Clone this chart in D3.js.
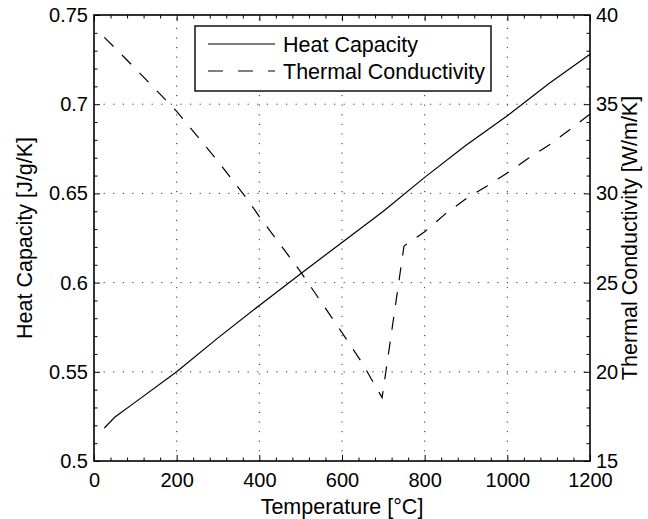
<!DOCTYPE html>
<html>
<head>
<meta charset="utf-8">
<script src="https://cdn.jsdelivr.net/npm/d3@7"></script>
<style>
  html, body { margin: 0; padding: 0; background: #fff; }
  svg { display: block; }
  text { font-family: "Liberation Sans", Arial, Helvetica, sans-serif; fill: #000; }
</style>
</head>
<body>
<svg id="chart" width="648" height="519"></svg>
<script>
// ---- data ----
const hcTemps = [25, 50, 100, 200, 300, 400, 500, 600, 700, 800, 900, 1000, 1100, 1200];
const heatCapacity = [0.5185, 0.5245, 0.533, 0.550, 0.569, 0.5872, 0.605, 0.6225, 0.640, 0.659, 0.677, 0.6935, 0.7115, 0.728];

const tcTemps = [25, 100, 200, 300, 370, 400, 500, 600, 650, 697, 750, 800, 850, 900, 950, 1000, 1050, 1100, 1150, 1200];
const thermalConductivity = [38.75, 37.0, 34.6, 31.8, 29.7, 28.7, 25.6, 22.2, 20.45, 18.55, 27.05, 27.85, 28.85, 29.7, 30.4, 31.15, 31.95, 32.7, 33.55, 34.45];

const xTicks = [0, 200, 400, 600, 800, 1000, 1200];
const yLeftTicks = [0.5, 0.55, 0.6, 0.65, 0.7, 0.75];
const yRightTicks = [15, 20, 25, 30, 35, 40];
const yLeftLabels = ["0.5", "0.55", "0.6", "0.65", "0.7", "0.75"];
const seriesNames = ["Heat Capacity", "Thermal Conductivity"];

// ---- layout ----
const L = 94, R = 590, T = 15, B = 461;
const svg = d3.select("#chart");

const x = d3.scaleLinear().domain([0, 1200]).range([L, R]);
const yL = d3.scaleLinear().domain([0.5, 0.75]).range([B, T]);
const yR = d3.scaleLinear().domain([15, 40]).range([B, T]);

const FONT = 20;      // tick labels
const TFONT = 21.5;   // titles and legend

// grid (dotted)
const grid = svg.append("g").attr("stroke", "#333").attr("stroke-width", 1)
  .attr("stroke-dasharray", "1.2,8.4");
xTicks.slice(1, -1).forEach(v => {
  grid.append("line").attr("x1", x(v)).attr("x2", x(v)).attr("y1", B).attr("y2", T);
});
yLeftTicks.slice(1, -1).forEach(v => {
  grid.append("line").attr("x1", L).attr("x2", R).attr("y1", yL(v)).attr("y2", yL(v));
});

// minor tick values
const xMinor = d3.range(0, 1201, 40).filter(v => v % 200 !== 0);
const yLMinor = d3.range(0, 26).map(i => 0.5 + i * 0.01).filter((v, i) => i % 5 !== 0);
const yRMinor = d3.range(15, 41).filter(v => v % 5 !== 0);

function styleAxis(g) {
  g.select(".domain").remove();
  g.selectAll("line").attr("stroke", "#000").attr("stroke-width", 1);
  g.selectAll("text").style("font-size", FONT + "px").attr("fill", "#000")
    .style("font-family", '"Liberation Sans", Arial, Helvetica, sans-serif');
}

// bottom
svg.append("g").attr("transform", `translate(0,${B})`)
  .call(d3.axisBottom(x).tickValues(xTicks).tickSize(-6).tickPadding(12).tickFormat(d3.format("d")))
  .call(styleAxis);
svg.append("g").attr("transform", `translate(0,${B})`)
  .call(d3.axisBottom(x).tickValues(xMinor).tickSize(-3.5).tickFormat(""))
  .call(styleAxis);
// top
svg.append("g").attr("transform", `translate(0,${T})`)
  .call(d3.axisTop(x).tickValues(xTicks).tickSize(-6).tickFormat(""))
  .call(styleAxis);
svg.append("g").attr("transform", `translate(0,${T})`)
  .call(d3.axisTop(x).tickValues(xMinor).tickSize(-3.5).tickFormat(""))
  .call(styleAxis);
// left
svg.append("g").attr("transform", `translate(${L},0)`)
  .call(d3.axisLeft(yL).tickValues(yLeftTicks).tickSize(-6).tickPadding(6)
    .tickFormat((d, i) => yLeftLabels[i]))
  .call(styleAxis);
svg.append("g").attr("transform", `translate(${L},0)`)
  .call(d3.axisLeft(yL).tickValues(yLMinor).tickSize(-3.5).tickFormat(""))
  .call(styleAxis);
// right
svg.append("g").attr("transform", `translate(${R},0)`)
  .call(d3.axisRight(yR).tickValues(yRightTicks).tickSize(-6).tickPadding(6).tickFormat(d3.format("d")))
  .call(styleAxis);
svg.append("g").attr("transform", `translate(${R},0)`)
  .call(d3.axisRight(yR).tickValues(yRMinor).tickSize(-3.5).tickFormat(""))
  .call(styleAxis);

// axis box
svg.append("rect").attr("x", L).attr("y", T).attr("width", R - L).attr("height", B - T)
  .attr("fill", "none").attr("stroke", "#000").attr("stroke-width", 1.6);

// lines
const hcData = hcTemps.map((t, i) => [t, heatCapacity[i]]);
const tcData = tcTemps.map((t, i) => [t, thermalConductivity[i]]);

svg.append("path").datum(hcData)
  .attr("d", d3.line().x(d => x(d[0])).y(d => yL(d[1])))
  .attr("fill", "none").attr("stroke", "#000").attr("stroke-width", 1.2);

svg.append("path").datum(tcData)
  .attr("d", d3.line().x(d => x(d[0])).y(d => yR(d[1])))
  .attr("fill", "none").attr("stroke", "#000").attr("stroke-width", 1.2)
  .attr("stroke-dasharray", "13,12");

// legend
const lg = svg.append("g");
lg.append("rect").attr("x", 195).attr("y", 26).attr("width", 296).attr("height", 65)
  .attr("fill", "#fff").attr("stroke", "#000").attr("stroke-width", 1.4);
lg.append("line").attr("x1", 208).attr("x2", 275).attr("y1", 44).attr("y2", 44)
  .attr("stroke", "#000").attr("stroke-width", 1.2);
lg.append("line").attr("x1", 208).attr("x2", 275).attr("y1", 71).attr("y2", 71)
  .attr("stroke", "#000").attr("stroke-width", 1.2).attr("stroke-dasharray", "15,15");
lg.append("text").attr("x", 283).attr("y", 44).attr("dy", "0.35em")
  .style("font-size", TFONT + "px").text(seriesNames[0]);
lg.append("text").attr("x", 283).attr("y", 71).attr("dy", "0.35em")
  .style("font-size", TFONT + "px").text(seriesNames[1]);

// axis titles
svg.append("text").attr("x", (L + R) / 2).attr("y", 514).attr("text-anchor", "middle")
  .style("font-size", TFONT + "px").text("Temperature [°C]");
svg.append("text").attr("transform", `translate(32,${(T + B) / 2}) rotate(-90)`)
  .attr("text-anchor", "middle").style("font-size", TFONT + "px").text("Heat Capacity [J/g/K]");
svg.append("text").attr("transform", `translate(637,${(T + B) / 2}) rotate(-90)`)
  .attr("text-anchor", "middle").style("font-size", TFONT + "px").text("Thermal Conductivity [W/m/K]");
</script>
</body>
</html>
